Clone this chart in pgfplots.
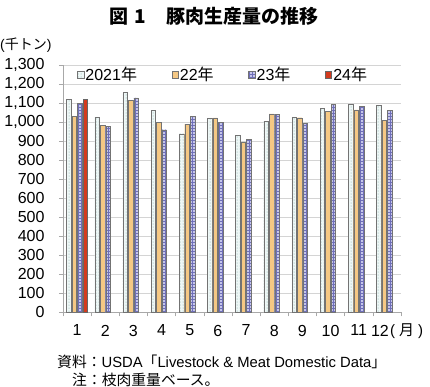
\documentclass[border=0pt]{standalone}
\usepackage{fontspec}
\setmainfont{Liberation Sans}
\newfontfamily\jp{Noto Sans CJK JP}
\usepackage{pgfplots}
\pgfplotsset{compat=1.18}
\usetikzlibrary{patterns}
\definecolor{c21fill}{HTML}{EEF7F6}
\definecolor{c21pat}{HTML}{7FA8A4}
\definecolor{c22fill}{HTML}{F5C884}
\definecolor{c23fill}{HTML}{C6C6EA}
\definecolor{c23pat}{HTML}{6F6FB8}
\definecolor{c24fill}{HTML}{D43A1E}
\definecolor{gridc}{HTML}{D4D4D4}
\definecolor{axc}{HTML}{A8A8A8}
\begin{document}
\begin{tikzpicture}[x=1pt,y=1pt]
\path[use as bounding box] (0,0) rectangle (430,386);
\begin{axis}[
  at={(63pt,73.7pt)}, anchor=south west,
  scale only axis, width=338pt, height=247pt,
  xmin=0.5, xmax=12.5, ymin=0, ymax=1300,
  ybar=0.9pt, bar width=4.6pt,
  axis x line*=bottom, axis y line*=left,
  axis line style={draw=axc, -},
  every tick/.style={draw=axc},
  tick align=outside,
  major tick length=4pt, minor tick length=4pt,
  xtick={1,...,12}, x tick style={draw=none},
  xticklabels={1,2,3,4,5,6,7,8,9,10,11,{\hspace{-14pt}12}},
  minor xtick={0.5,1.5,...,12.5},
  minor x tick style={draw=axc},
  ytick={0,100,...,1300},
  ymajorgrids, grid style={draw=gridc, line width=0.6pt},
  /pgf/number format/assume math mode=true,
  yticklabel style={/pgf/number format/.cd, 1000 sep={,}, /tikz/.cd, font=\fontsize{16}{17}\selectfont, xshift=-11pt},
  xticklabel style={font=\fontsize{16}{17}\selectfont, yshift=-5pt},
  legend style={at={(rel axis cs:0.032,0.962)}, anchor=west, draw=none, fill=none,
    legend columns=-1, font=\fontsize{16}{17}\selectfont,
    /tikz/every even column/.append style={column sep=33pt},
    nodes={inner sep=1.5pt}},
  legend image code/.code={\draw[#1] (0pt,-3.2pt) rectangle (6.5pt,3.2pt);},
]
\addplot[fill=c21fill, draw=black!55, line width=0.4pt, postaction={pattern=dots, pattern color=c21pat}] coordinates {
(1,1122) (2,1028) (3,1156) (4,1063) (5,940) (6,1023) (7,930) (8,1005) (9,1028) (10,1075) (11,1095) (12,1091)};
\addplot[fill=c22fill, draw=black!55, line width=0.4pt] coordinates {
(1,1033) (2,984) (3,1114) (4,1000) (5,991) (6,1023) (7,895) (8,1045) (9,1024) (10,1059) (11,1066) (12,1010)};
\addplot[fill=c23fill, draw=black!55, line width=0.4pt, postaction={pattern=grid, pattern color=c23pat}] coordinates {
(1,1100) (2,977) (3,1128) (4,961) (5,1031) (6,1000) (7,910) (8,1042) (9,993) (10,1096) (11,1084) (12,1063)};
\addplot[fill=c24fill, draw=black!60, line width=0.4pt] coordinates {(1,1119)};
\legend{2021{\jp 年},22{\jp 年},23{\jp 年},24{\jp 年}}
\end{axis}
\node[font=\jp\bfseries\fontsize{19}{21}\selectfont] at (214,370) {図\hspace{0.3em}1\hspace{1.1em}豚肉生産量の推移};
\node[anchor=west, font=\fontsize{14}{16}\selectfont, inner sep=0pt] at (0,341) {({\jp 千トン})};
\node[anchor=west, font=\fontsize{15}{16}\selectfont, inner sep=0pt] at (390,55) {(\hspace{4pt}{\jp 月}\hspace{4pt})};
\node[anchor=west, font=\fontsize{14.8}{16}\selectfont, inner sep=0pt] at (57,24) {{\jp 資料：}USDA{\jp 「}Livestock \& Meat Domestic Data{\jp 」}};
\node[anchor=west, font=\fontsize{14.8}{16}\selectfont, inner sep=0pt] at (72,6) {\jp 注：枝肉重量ベース。};
\end{tikzpicture}
\end{document}
